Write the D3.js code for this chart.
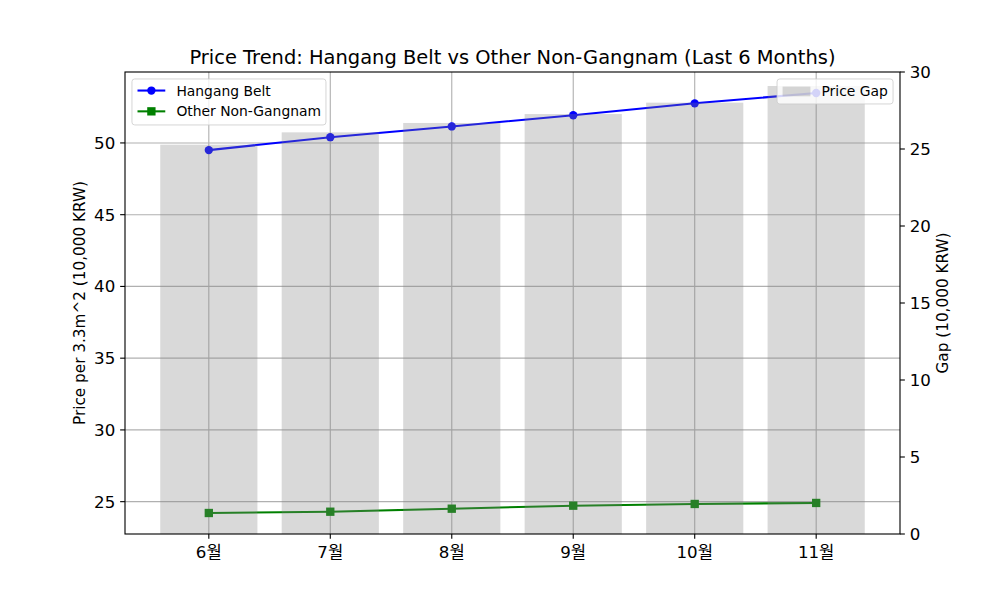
<!DOCTYPE html>
<html>
<head>
<meta charset="utf-8">
<script src="https://cdn.jsdelivr.net/npm/d3@7"></script>
<style>
  body { margin: 0; background: #fff; }
  svg { display: block; }
  text { font-family: "DejaVu Sans", "Noto Sans CJK KR", sans-serif; fill: #000; }
</style>
</head>
<body>
<svg id="chart" width="1000" height="600"></svg>
<script>
// ---- data ----
const months = ["6월", "7월", "8월", "9월", "10월", "11월"];
const hangangBelt = [49.5, 50.4, 51.15, 51.93, 52.76, 53.48];
const otherNonGangnam = [24.21, 24.3, 24.51, 24.72, 24.84, 24.91];
const priceGap = [25.28, 26.08, 26.69, 27.27, 28.01, 29.09];
const leftTicks = [25, 30, 35, 40, 45, 50];
const rightTicks = [0, 5, 10, 15, 20, 25, 30];

const title = "Price Trend: Hangang Belt vs Other Non-Gangnam (Last 6 Months)";
const leftLabel = "Price per 3.3m^2 (10,000 KRW)";
const rightLabel = "Gap (10,000 KRW)";

// ---- layout ----
const W = 1000, H = 600;
const L = 125, R = 900, T = 72, B = 534;
const pt = 100 / 72;
const tickFs = 12 * pt, labelFs = 11 * pt, titleFs = 14 * pt, legFs = 10 * pt;

const svg = d3.select("#chart");

// x scale: bars width 0.8, 5% margins
const n = months.length;
const xlo = -0.4, xhi = n - 1 + 0.4, xm = (xhi - xlo) * 0.05;
const x = d3.scaleLinear().domain([xlo - xm, xhi + xm]).range([L, R]);

// left y: autoscale w/ 5% margin
const allVals = hangangBelt.concat(otherNonGangnam);
const ymin = d3.min(allVals), ymax = d3.max(allVals), ym = (ymax - ymin) * 0.05;
const y1 = d3.scaleLinear().domain([ymin - ym, ymax + ym]).range([B, T]);
const y2 = d3.scaleLinear().domain([0, 30]).range([B, T]);

const g = svg.append("g");

// clip
svg.append("defs").append("clipPath").attr("id", "clip")
  .append("rect").attr("x", L).attr("y", T).attr("width", R - L).attr("height", B - T);

// grid (ax1)
const grid = g.append("g").attr("clip-path", "url(#clip)");
grid.selectAll(".gx").data(months).enter().append("line")
  .attr("x1", (d, i) => x(i)).attr("x2", (d, i) => x(i))
  .attr("y1", T).attr("y2", B)
  .attr("stroke", "#b0b0b0").attr("stroke-width", 0.8 * pt);
grid.selectAll(".gy").data(leftTicks).enter().append("line")
  .attr("x1", L).attr("x2", R)
  .attr("y1", d => y1(d)).attr("y2", d => y1(d))
  .attr("stroke", "#b0b0b0").attr("stroke-width", 0.8 * pt);

// lines (ax1)
const lineGen = d3.line().x((d, i) => x(i)).y(d => y1(d));
const plot = g.append("g").attr("clip-path", "url(#clip)");
plot.append("path").datum(hangangBelt).attr("d", lineGen)
  .attr("fill", "none").attr("stroke", "#0000ff").attr("stroke-width", 1.5 * pt);
plot.selectAll(".mh").data(hangangBelt).enter().append("circle")
  .attr("cx", (d, i) => x(i)).attr("cy", d => y1(d)).attr("r", 3 * pt)
  .attr("fill", "#0000ff");
plot.append("path").datum(otherNonGangnam).attr("d", lineGen)
  .attr("fill", "none").attr("stroke", "#008000").attr("stroke-width", 1.5 * pt);
const sq = 6 * pt;
plot.selectAll(".mo").data(otherNonGangnam).enter().append("rect")
  .attr("x", (d, i) => x(i) - sq / 2).attr("y", d => y1(d) - sq / 2)
  .attr("width", sq).attr("height", sq).attr("fill", "#008000");

// legend 1 (upper left)
function legendBox(x0, y0, w, h) {
  g.append("rect").attr("x", x0).attr("y", y0).attr("width", w).attr("height", h)
    .attr("rx", 2.8).attr("ry", 2.8)
    .attr("fill", "#ffffff").attr("fill-opacity", 0.8)
    .attr("stroke", "#cccccc").attr("stroke-opacity", 0.8).attr("stroke-width", 1);
}
const pad = 0.5 * legFs;
{
  const x0 = L + pad, y0 = T + pad;
  legendBox(x0, y0, 194, 46);
  const rows = [
    { label: "Hangang Belt", color: "#0000ff", shape: "circle" },
    { label: "Other Non-Gangnam", color: "#008000", shape: "square" }
  ];
  rows.forEach((r, i) => {
    const cy = y0 + 11.6 + i * 20.8;
    const hx0 = x0 + 0.4 * legFs, hx1 = hx0 + 2 * legFs;
    g.append("line").attr("x1", hx0).attr("x2", hx1).attr("y1", cy).attr("y2", cy)
      .attr("stroke", r.color).attr("stroke-width", 1.5 * pt);
    if (r.shape === "circle") {
      g.append("circle").attr("cx", (hx0 + hx1) / 2).attr("cy", cy).attr("r", 3 * pt).attr("fill", r.color);
    } else {
      g.append("rect").attr("x", (hx0 + hx1) / 2 - sq / 2).attr("y", cy - sq / 2)
        .attr("width", sq).attr("height", sq).attr("fill", r.color);
    }
    g.append("text").attr("x", hx1 + 0.8 * legFs).attr("y", cy + 5)
      .attr("font-size", legFs).text(r.label);
  });
}

// bars (ax2, on top)
g.append("g").selectAll("rect").data(priceGap).enter().append("rect")
  .attr("x", (d, i) => x(i - 0.4)).attr("width", x(0.8) - x(0))
  .attr("y", d => y2(d)).attr("height", d => B - y2(d))
  .attr("fill", "#808080").attr("fill-opacity", 0.3);

// spines
const sp = g.append("g").attr("stroke", "#000").attr("stroke-width", 0.8 * pt).attr("fill", "none");
sp.append("rect").attr("x", L).attr("y", T).attr("width", R - L).attr("height", B - T);

// ticks
const tl = 3.5 * pt, tp = 3.5 * pt;
// x
months.forEach((m, i) => {
  g.append("line").attr("x1", x(i)).attr("x2", x(i)).attr("y1", B).attr("y2", B + tl)
    .attr("stroke", "#000").attr("stroke-width", 0.8 * pt);
  g.append("text").attr("x", x(i)).attr("y", B + tl + tp + 0.76 * tickFs + 1.5)
    .attr("text-anchor", "middle").attr("font-size", tickFs).text(m);
});
// left
leftTicks.forEach(v => {
  g.append("line").attr("x1", L - tl).attr("x2", L).attr("y1", y1(v)).attr("y2", y1(v))
    .attr("stroke", "#000").attr("stroke-width", 0.8 * pt);
  g.append("text").attr("x", L - tl - tp).attr("y", y1(v)).attr("dy", "0.36em")
    .attr("text-anchor", "end").attr("font-size", tickFs).text(v);
});
// right
rightTicks.forEach(v => {
  g.append("line").attr("x1", R).attr("x2", R + tl).attr("y1", y2(v)).attr("y2", y2(v))
    .attr("stroke", "#000").attr("stroke-width", 0.8 * pt);
  g.append("text").attr("x", R + tl + tp).attr("y", y2(v)).attr("dy", "0.36em")
    .attr("text-anchor", "start").attr("font-size", tickFs).text(v);
});

// axis labels
const cyMid = (T + B) / 2;
g.append("text").attr("transform", `translate(84.5,${cyMid}) rotate(-90)`)
  .attr("text-anchor", "middle").attr("font-size", labelFs).text(leftLabel);
g.append("text").attr("transform", `translate(947.5,${cyMid}) rotate(-90)`)
  .attr("text-anchor", "middle").attr("font-size", labelFs).text(rightLabel);

// title
g.append("text").attr("x", (L + R) / 2).attr("y", T - 6 * pt)
  .attr("text-anchor", "middle").attr("font-size", titleFs).text(title);

// legend 2 (upper right)
{
  const w = 116, h = 25;
  const x0 = R - pad - w, y0 = T + pad;
  legendBox(x0, y0, w, h);
  const hx0 = x0 + 0.4 * legFs, cy = y0 + h / 2;
  g.append("rect").attr("x", hx0).attr("y", cy - 0.35 * legFs)
    .attr("width", 2 * legFs).attr("height", 0.7 * legFs)
    .attr("fill", "#808080").attr("fill-opacity", 0.3);
  g.append("text").attr("x", hx0 + 2.8 * legFs).attr("y", cy + 5)
    .attr("font-size", legFs).text("Price Gap");
}
</script>
</body>
</html>
